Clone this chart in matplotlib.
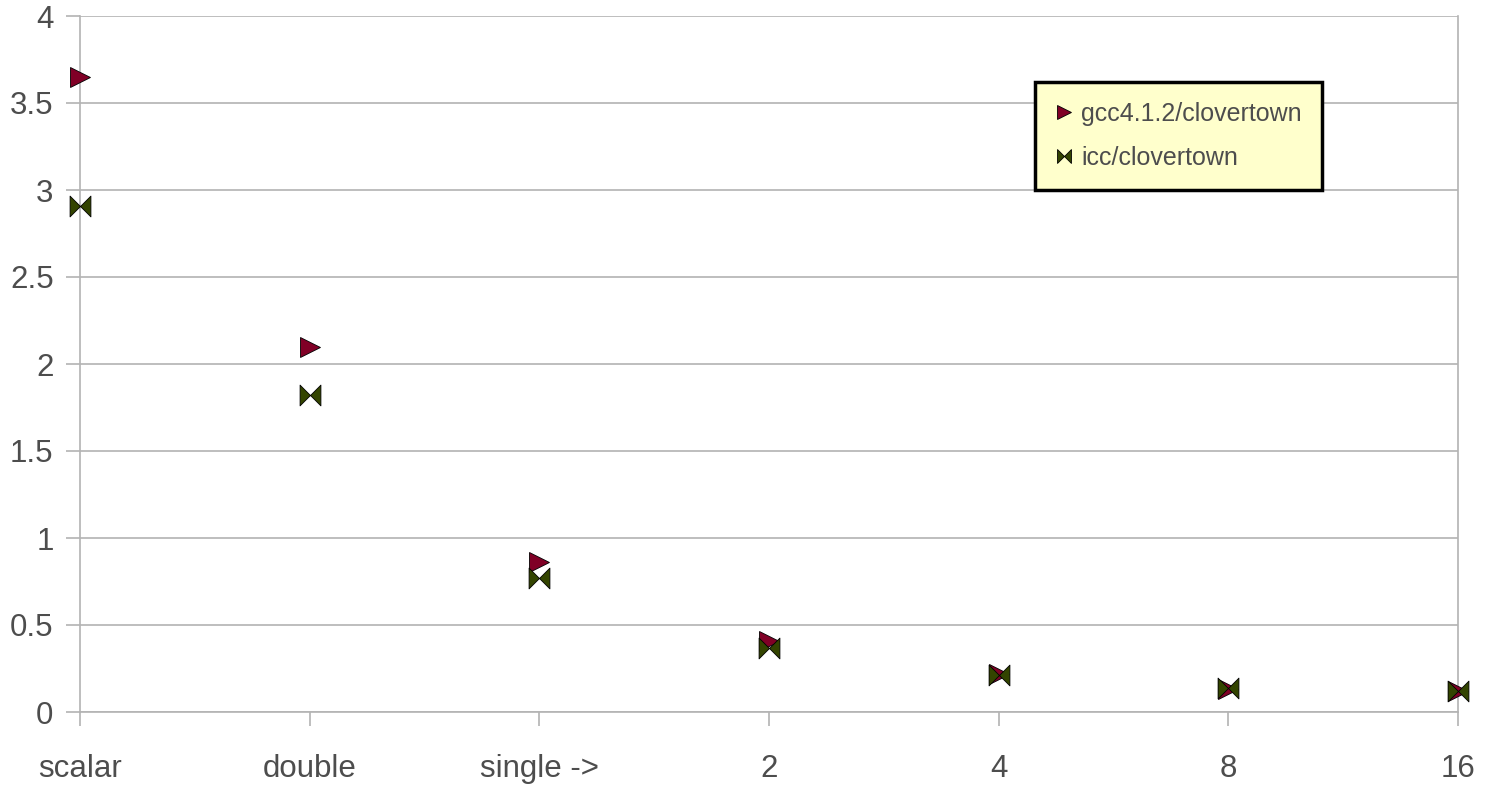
#!/usr/bin/env python3
"""Scatter of run times for gcc vs icc on clovertown, per vector width."""
import matplotlib
matplotlib.use("Agg")
import matplotlib.pyplot as plt
from matplotlib.path import Path
from matplotlib.lines import Line2D

categories = ["scalar", "double", "single ->", "2", "4", "8", "16"]
gcc_vals = [3.65, 2.10, 0.86, 0.41, 0.22, 0.13, 0.12]
icc_vals = [2.91, 1.82, 0.77, 0.37, 0.21, 0.14, 0.12]
y_ticks = [0, 0.5, 1, 1.5, 2, 2.5, 3, 3.5, 4]
y_labels = ["0", "0.5", "1", "1.5", "2", "2.5", "3", "3.5", "4"]

GCC_COLOR = "#800026"
ICC_COLOR = "#334400"
TEXT_COLOR = "#4d4d4d"
GRID_COLOR = "#b3b3b3"

# bowtie marker: two triangles pointing at the centre
bowtie = Path(
    [(-1, 1), (0, 0), (-1, -1), (-1, 1), (1, 1), (0, 0), (1, -1), (1, 1)],
    [Path.MOVETO, Path.LINETO, Path.LINETO, Path.CLOSEPOLY,
     Path.MOVETO, Path.LINETO, Path.LINETO, Path.CLOSEPOLY],
)

plt.rcParams["font.family"] = ["Liberation Sans", "DejaVu Sans"]

fig = plt.figure(figsize=(14.89, 7.85), dpi=100)
ax = fig.add_axes([80 / 1489, 73 / 785, 1378 / 1489, 696 / 785])

x = list(range(len(categories)))
ax.plot(x, gcc_vals, linestyle="none", marker=">", markersize=14.5,
        markerfacecolor=GCC_COLOR, markeredgecolor="black",
        markeredgewidth=0.6, clip_on=False, zorder=3)
ax.plot(x, icc_vals, linestyle="none", marker=bowtie, markersize=15,
        markerfacecolor=ICC_COLOR, markeredgecolor="black",
        markeredgewidth=0.6, clip_on=False, zorder=4)

ax.set_xlim(0, len(categories) - 1)
ax.set_ylim(0, 4)
ax.set_xticks(x)
ax.set_xticklabels(categories)
ax.set_yticks(y_ticks)
ax.set_yticklabels(y_labels)

ax.yaxis.grid(True, color=GRID_COLOR, linewidth=1.2)
ax.set_axisbelow(True)
for side in ["left", "right", "bottom"]:
    ax.spines[side].set_color(GRID_COLOR)
    ax.spines[side].set_linewidth(1.2)
ax.spines["top"].set_visible(False)

ax.tick_params(axis="x", length=10, width=1.2, color=GRID_COLOR,
               pad=20, labelsize=22.5, labelcolor=TEXT_COLOR)
ax.tick_params(axis="y", length=10, width=1.2, color=GRID_COLOR,
               pad=9, labelsize=22.5, labelcolor=TEXT_COLOR)

handles = [
    Line2D([], [], linestyle="none", marker=">", markersize=10,
           markerfacecolor=GCC_COLOR, markeredgecolor="black", markeredgewidth=0.6),
    Line2D([], [], linestyle="none", marker=bowtie, markersize=10,
           markerfacecolor=ICC_COLOR, markeredgecolor="black", markeredgewidth=0.6),
]
leg = ax.legend(handles, ["gcc4.1.2/clovertown", "icc/clovertown"],
                loc="upper left", bbox_to_anchor=(955 / 1378, 630 / 696),
                fontsize=18, labelcolor=TEXT_COLOR, fancybox=False,
                facecolor="#ffffcc", edgecolor="black", framealpha=1,
                handlelength=0.7, handletextpad=0.35, borderpad=0.8,
                labelspacing=0.8, borderaxespad=0)
leg.get_frame().set_linewidth(2.5)

fig.savefig("out.png", dpi=100)
